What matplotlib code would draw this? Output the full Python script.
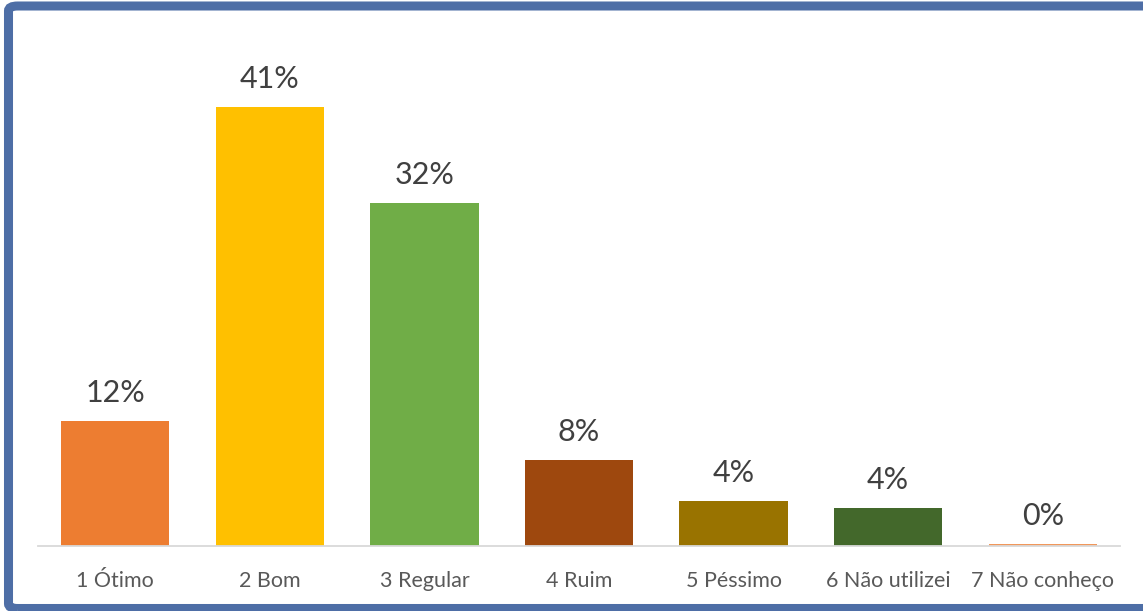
import matplotlib
matplotlib.use("Agg")
import matplotlib.pyplot as plt
from matplotlib.patches import FancyBboxPatch

categories = ["1 Ótimo", "2 Bom", "3 Regular", "4 Ruim", "5 Péssimo", "6 Não utilizei", "7 Não conheço"]
values = [11.7, 41.0, 32.1, 8.0, 4.2, 3.55, 0.15]
labels = ["12%", "41%", "32%", "8%", "4%", "4%", "0%"]
colors = ["#ED7D31", "#FFC000", "#70AD47", "#9E480E", "#997300", "#43682B", "#F1975A"]

plt.rcParams['font.family'] = ['Lato', 'DejaVu Sans']

W, H = 1143, 611
fig = plt.figure(figsize=(W / 100, H / 100), dpi=100)
fig.patch.set_facecolor("white")

ax = fig.add_axes([38 / W, 65 / H, 1082 / W, 481.5 / H])
x = list(range(len(categories)))
bars = ax.bar(x, values, width=0.70, color=colors, zorder=2)
ax.set_xlim(-0.5, 6.5)
ax.set_ylim(0, 45)

for spine in ["top", "right", "left"]:
    ax.spines[spine].set_visible(False)
ax.spines["bottom"].set_color("#D9D9D9")
ax.spines["bottom"].set_linewidth(1.3)
ax.set_yticks([])
ax.set_xticks(x)
ax.set_xticklabels(categories, fontsize=15.5, color="#595959")
ax.tick_params(axis="x", length=0, pad=18)

for xi, v, lab in zip(x, values, labels):
    ax.annotate(lab, (xi, v), xytext=(0, 13.7), textcoords="offset points",
                ha="center", va="baseline", fontsize=22, color="#404040")

# outer frame
frame = FancyBboxPatch((8.5 / W, 2.5 / H), (1175 - 8.5) / W, (605 - 2.5) / H,
                       boxstyle="round,pad=0,rounding_size=0.008",
                       transform=fig.transFigure, fill=False,
                       edgecolor="#4E6EA6", linewidth=6.5, zorder=10)
fig.patches.append(frame)

fig.savefig("out.png", dpi=100)
